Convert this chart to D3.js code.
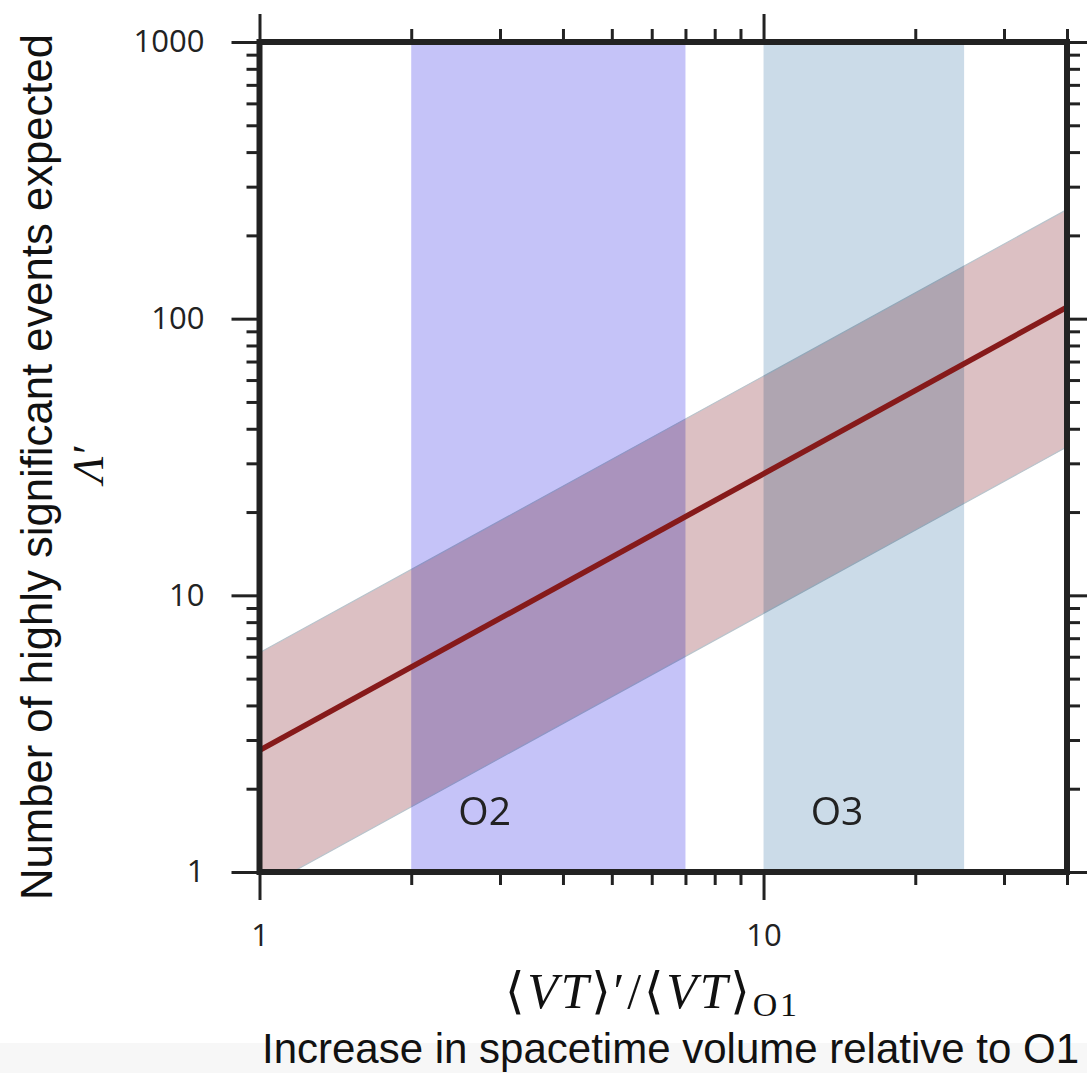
<!DOCTYPE html>
<html>
<head>
<meta charset="utf-8">
<script src="https://cdn.jsdelivr.net/npm/d3@7"></script>
<style>
  html, body { margin: 0; padding: 0; background: #fff; }
  svg { display: block; }
</style>
</head>
<body>
<svg id="chart" width="1087" height="1073"></svg>
<script>
// Expected number of highly significant events vs. sensitive spacetime volume
const vtRatio       = [1, 40];
const lambdaCentral = [2.75, 110];
const lambdaLower   = [0.86, 34.4];
const lambdaUpper   = [6.2, 248];

// Observing runs shaded on the volume axis
const runNames  = ["O2", "O3"];
const runStart  = [2, 10];
const runEnd    = [7, 25];
const runColors = ["#c5c3f8", "#cbdbe8"];

// Axis ticks
const xMajorTicks = [1, 10];
const xMinorTicks = [2, 3, 4, 5, 6, 7, 8, 9, 20, 30, 40];
const yMajorTicks = [1, 10, 100, 1000];
const yMinorTicks = [2,3,4,5,6,7,8,9, 20,30,40,50,60,70,80,90, 200,300,400,500,600,700,800,900];

const W = 1087, H = 1073;
const plot = { left: 259.5, top: 42, right: 1067, bottom: 872 };

const svg = d3.select("#chart");

// light strip behind the caption
svg.append("rect")
  .attr("x", 0).attr("y", 1043).attr("width", W).attr("height", H - 1043)
  .attr("fill", "#f7f7f7");

const x = d3.scaleLog().domain([1, 40]).range([plot.left, plot.right]);
const y = d3.scaleLog().domain([1, 1000]).range([plot.bottom, plot.top]);

svg.append("defs").append("clipPath").attr("id", "plotClip")
  .append("rect")
  .attr("x", plot.left).attr("y", plot.top)
  .attr("width", plot.right - plot.left).attr("height", plot.bottom - plot.top);

const inner = svg.append("g").attr("clip-path", "url(#plotClip)");

// observing-run bands
const runs = runNames.map((name, i) => ({ name, start: runStart[i], end: runEnd[i], color: runColors[i] }));
inner.selectAll("rect.run").data(runs).enter().append("rect")
  .attr("class", "run")
  .attr("x", d => x(d.start))
  .attr("width", d => x(d.end) - x(d.start))
  .attr("y", plot.top)
  .attr("height", plot.bottom - plot.top)
  .attr("fill", d => d.color);

// uncertainty band
const bandData = vtRatio.map((v, i) => ({ v, lo: lambdaLower[i], hi: lambdaUpper[i] }));
inner.append("path")
  .datum(bandData)
  .attr("d", d3.area().x(d => x(d.v)).y0(d => y(d.lo)).y1(d => y(d.hi)))
  .attr("fill", "#dcc0c3")
  .attr("stroke", "#b9c4cc")
  .attr("stroke-width", 1.2)
  .style("mix-blend-mode", "multiply");

// central estimate
const lineData = vtRatio.map((v, i) => ({ v, c: lambdaCentral[i] }));
inner.append("path")
  .datum(lineData)
  .attr("d", d3.line().x(d => x(d.v)).y(d => y(d.c)))
  .attr("fill", "none")
  .attr("stroke", "#861a1a")
  .attr("stroke-width", 5.5);

// run labels
inner.selectAll("text.run").data(runs).enter().append("text")
  .attr("class", "run")
  .attr("x", d => x(d.start * 1.24))
  .attr("y", plot.bottom - 47)
  .attr("font-family", "'Open Sans', 'Noto Sans', sans-serif")
  .attr("font-size", 39)
  .attr("fill", "#222")
  .text(d => d.name);

// axes: all ticks point outward
const tickFont = "'Open Sans', 'Noto Sans', sans-serif";
function styleAxis(g) {
  g.select(".domain").remove();
  g.selectAll(".tick line").attr("stroke", "#222").attr("stroke-width", 3);
  g.selectAll(".tick text")
    .attr("font-family", tickFont)
    .attr("font-size", 31)
    .attr("fill", "#222");
}
const fmt = d3.format("d");

svg.append("g").attr("transform", `translate(0,${plot.bottom})`)
  .call(d3.axisBottom(x).tickValues(xMajorTicks).tickFormat(fmt).tickSize(28).tickPadding(24))
  .call(styleAxis);
svg.append("g").attr("transform", `translate(0,${plot.bottom})`)
  .call(d3.axisBottom(x).tickValues(xMinorTicks).tickFormat("").tickSize(13))
  .call(styleAxis);
svg.append("g").attr("transform", `translate(0,${plot.top})`)
  .call(d3.axisTop(x).tickValues(xMajorTicks).tickFormat("").tickSize(28))
  .call(styleAxis);
svg.append("g").attr("transform", `translate(0,${plot.top})`)
  .call(d3.axisTop(x).tickValues(xMinorTicks).tickFormat("").tickSize(13))
  .call(styleAxis);

svg.append("g").attr("transform", `translate(${plot.left},0)`)
  .call(d3.axisLeft(y).tickValues(yMajorTicks).tickFormat(fmt).tickSize(28).tickPadding(27))
  .call(styleAxis);
svg.append("g").attr("transform", `translate(${plot.left},0)`)
  .call(d3.axisLeft(y).tickValues(yMinorTicks).tickFormat("").tickSize(13))
  .call(styleAxis);
svg.append("g").attr("transform", `translate(${plot.right},0)`)
  .call(d3.axisRight(y).tickValues(yMajorTicks).tickFormat("").tickSize(28))
  .call(styleAxis);
svg.append("g").attr("transform", `translate(${plot.right},0)`)
  .call(d3.axisRight(y).tickValues(yMinorTicks).tickFormat("").tickSize(13))
  .call(styleAxis);

// frame
svg.append("rect")
  .attr("x", plot.left).attr("y", plot.top)
  .attr("width", plot.right - plot.left).attr("height", plot.bottom - plot.top)
  .attr("fill", "none").attr("stroke", "#222").attr("stroke-width", 6);

// y-axis title
const yMid = (plot.top + plot.bottom) / 2;
svg.append("text")
  .attr("transform", `translate(52,${yMid + 10}) rotate(-90)`)
  .attr("text-anchor", "middle")
  .attr("font-family", "'Liberation Sans', Arial, sans-serif")
  .attr("font-size", 44)
  .attr("fill", "#111")
  .attr("textLength", 866)
  .attr("lengthAdjust", "spacingAndGlyphs")
  .text("Number of highly significant events expected");

svg.append("text")
  .attr("transform", `translate(103,${yMid + 8}) rotate(-90)`)
  .attr("text-anchor", "middle")
  .attr("font-family", "'Liberation Serif', 'DejaVu Serif', serif")
  .attr("font-style", "italic")
  .attr("font-size", 44)
  .attr("fill", "#111")
  .text("Λ′");

// x-axis title (math form)
const xt = svg.append("text")
  .attr("x", 651)
  .attr("y", 1008)
  .attr("text-anchor", "middle")
  .attr("font-family", "'Liberation Serif', 'DejaVu Serif', serif")
  .attr("font-size", 50)
  .attr("fill", "#111")
  .attr("textLength", 292)
  .attr("lengthAdjust", "spacing");
xt.append("tspan").attr("font-family", "'DejaVu Serif', serif").attr("font-weight", 300).text("⟨");
xt.append("tspan").attr("font-style", "italic").text("VT");
xt.append("tspan").attr("font-family", "'DejaVu Serif', serif").text("⟩");
xt.append("tspan").text("′/");
xt.append("tspan").attr("font-family", "'DejaVu Serif', serif").text("⟨");
xt.append("tspan").attr("font-style", "italic").text("VT");
xt.append("tspan").attr("font-family", "'DejaVu Serif', serif").text("⟩");
xt.append("tspan").attr("font-size", 34).attr("dy", 8).text("O1");

// caption
svg.append("text")
  .attr("x", 262)
  .attr("y", 1063)
  .attr("font-family", "'Liberation Sans', Arial, sans-serif")
  .attr("font-size", 42)
  .attr("fill", "#111")
  .text("Increase in spacetime volume relative to O1");
</script>
</body>
</html>
